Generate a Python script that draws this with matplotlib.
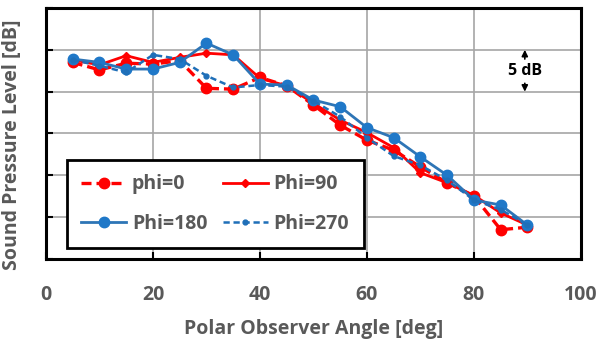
import matplotlib
matplotlib.use("Agg")
import matplotlib.pyplot as plt

# polar observer angle [deg]
angle = [5, 10, 15, 20, 25, 30, 35, 40, 45, 50, 55, 60, 65, 70, 75, 80, 85, 90]

# relative SPL [dB]
phi0 = [23.5, 22.6, 23.4, 23.3, 23.7, 20.4, 20.3, 21.7, 20.7, 18.4, 16.0, 14.2, 13.0, 11.0, 9.1, 7.5, 3.5, 3.8]
phi90 = [23.8, 23.2, 24.3, 23.5, 24.1, 24.6, 24.4, 21.6, 20.7, 18.6, 16.6, 15.1, 13.3, 10.3, 9.1, 7.6, 5.5, 4.05]
phi180 = [23.9, 23.5, 22.7, 22.7, 23.5, 25.8, 24.4, 20.9, 20.8, 19.0, 18.2, 15.7, 14.5, 12.2, 10.0, 7.05, 6.45, 4.05]
phi270 = [23.8, 23.1, 22.3, 24.4, 23.9, 21.9, 20.5, 20.8, 20.6, 18.9, 17.0, 14.5, 12.3, 11.2, 9.4, 7.05, 5.9, 4.05]

labels = ["phi=0", "Phi=90", "Phi=180", "Phi=270"]

red = "#ff0000"
blue = "#2e75b6"
grey = "#595959"

plt.rcParams['font.family'] = ['Open Sans', 'DejaVu Sans']
plt.rcParams['font.weight'] = 'bold'

fig = plt.figure(figsize=(6.01, 3.45), dpi=100)
ax = fig.add_axes([0.0765, 0.2493, 0.8902, 0.7275])

l0, = ax.plot(angle, phi0, color=red, ls=(0, (3, 1.5)), lw=2.4, marker='o', ms=7.5, label=labels[0])
l1, = ax.plot(angle, phi90, color=red, ls='-', lw=2, marker='D', ms=4.5, label=labels[1])
l2, = ax.plot(angle, phi180, color=blue, ls='-', lw=2, marker='o', ms=7.5, mfc='#1f78c8', mec='#1f78c8', label=labels[2])
l3, = ax.plot(angle, phi270, color='#1f6fb8', ls=(0, (2.5, 1.5)), lw=1.8, marker='o', ms=3.5, label=labels[3])

ax.set_xlim(0, 100)
ax.set_ylim(0, 30)
ax.set_xticks(range(0, 101, 20))
ax.set_yticks(range(0, 31, 5))
ax.set_yticklabels([])
ax.grid(True, color='#a6a6a6', lw=1.2)
ax.set_axisbelow(True)
ax.tick_params(axis='both', direction='in', length=5, width=1.5, color='black')
ax.tick_params(axis='x', pad=19, labelsize=14)
for t in ax.get_xticklabels():
    t.set_color(grey)
    t.set_fontweight('bold')
for s in ax.spines.values():
    s.set_linewidth(2.2)
    s.set_color('black')

ax.set_xlabel("Polar Observer Angle [deg]", fontsize=14, color=grey, fontweight='bold', labelpad=10)
ax.set_ylabel("Sound Pressure Level [dB]", fontsize=14, color=grey, fontweight='bold')
ax.yaxis.set_label_coords(-0.045, 0.455)

# 5 dB scale marker
ax.text(89.5, 22.45, "5 dB", ha='center', va='center', fontsize=11.5, color='black', fontweight='bold')
ax.annotate("", xy=(89.5, 25), xytext=(89.5, 23.9),
            arrowprops=dict(arrowstyle='-|>', color='black', lw=1.2, mutation_scale=9,
                            shrinkA=0, shrinkB=0))
ax.annotate("", xy=(89.5, 20), xytext=(89.5, 21.0),
            arrowprops=dict(arrowstyle='-|>', color='black', lw=1.2, mutation_scale=9,
                            shrinkA=0, shrinkB=0))

leg = ax.legend([l0, l2, l1, l3], [labels[0], labels[2], labels[1], labels[3]],
                loc='lower left', bbox_to_anchor=(0.039, 0.042), ncol=2, fontsize=14,
                frameon=True, fancybox=False, framealpha=1, handlelength=2.3, columnspacing=0.8,
                borderpad=0.75, labelspacing=1.0, handletextpad=0.3, borderaxespad=0)
leg.get_frame().set_edgecolor('black')
leg.get_frame().set_linewidth(2)
for t in leg.get_texts():
    t.set_color(grey)
    t.set_fontweight('bold')

fig.savefig("out.png", dpi=100)
